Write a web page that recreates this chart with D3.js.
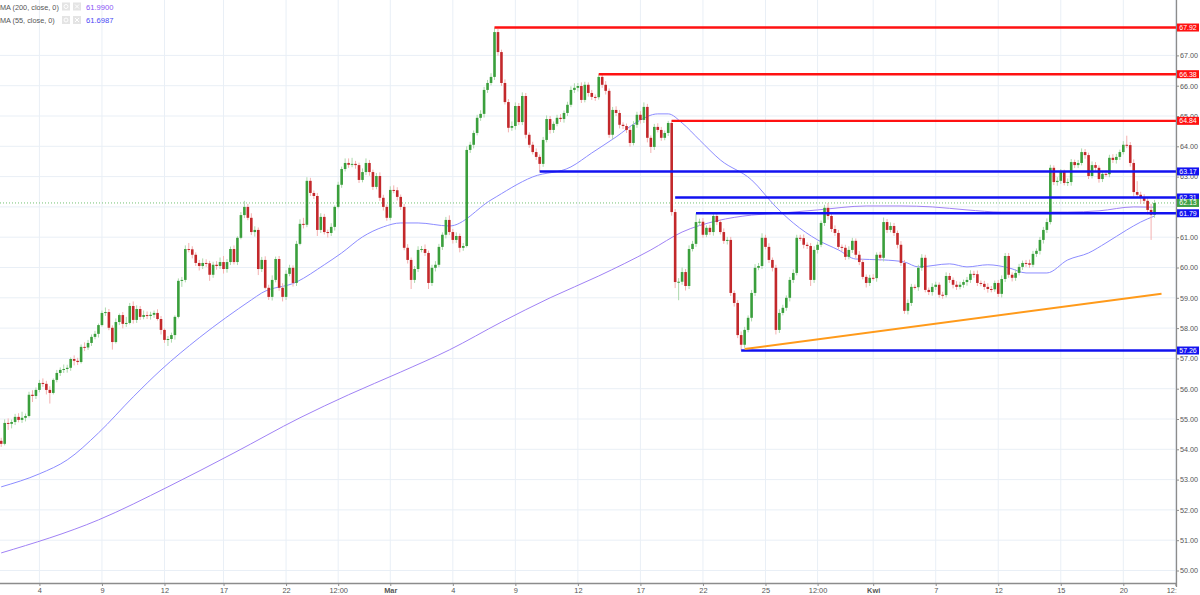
<!DOCTYPE html>
<html><head><meta charset="utf-8">
<script src="https://cdn.jsdelivr.net/npm/d3@7"></script>
<style>
html,body{margin:0;padding:0;background:#fff;overflow:hidden;}
svg{display:block;font-family:"Liberation Sans",Arial,sans-serif;}
</style></head><body>
<svg id="c" width="1200" height="595"></svg>
<script>
// ---------------- DATA ----------------
const firstOpen = 54.28;
const closes = [
54.18,54.87,54.84,54.90,55.07,54.97,55.04,55.10,55.80,55.76,
55.96,56.19,56.16,55.96,55.86,56.29,56.52,56.62,56.65,56.69,
56.98,56.92,56.88,57.38,57.36,57.51,57.71,57.81,58.10,58.50,
58.53,58.01,57.54,58.20,58.43,58.14,58.17,58.73,58.27,58.63,
58.37,58.43,58.40,58.44,58.50,58.30,57.94,57.61,57.64,57.77,
58.37,59.56,59.59,60.61,60.60,60.42,60.15,60.05,60.15,60.14,
59.76,60.09,60.05,60.18,59.95,60.18,60.61,60.18,60.98,61.73,
62.00,61.64,61.17,61.24,59.95,60.25,59.33,59.03,59.59,60.28,
59.33,59.03,59.79,59.99,59.49,60.78,61.44,61.41,62.86,62.46,
62.36,61.24,61.67,61.17,61.14,61.34,62.00,62.73,63.25,63.45,
63.39,63.42,63.38,62.89,63.15,63.45,63.15,62.66,63.02,62.30,
62.00,61.64,62.56,62.55,62.33,62.00,60.65,60.25,59.59,59.95,
60.58,60.61,60.48,59.49,59.99,60.09,60.68,61.08,61.57,61.17,
60.91,61.04,60.65,60.71,63.88,64.05,64.44,64.94,65.07,65.86,
66.09,66.29,67.77,67.11,66.09,65.46,64.61,64.67,65.33,64.80,
65.66,64.38,64.05,63.81,63.65,63.42,64.21,64.90,64.54,64.74,
64.94,64.90,65.10,65.37,65.86,65.93,65.99,65.53,66.03,65.76,
65.63,65.62,66.29,66.03,65.83,64.38,65.20,65.10,64.71,64.67,
64.54,64.11,64.71,65.04,64.87,65.30,64.28,63.98,64.64,64.54,
64.28,64.44,64.77,61.83,59.52,59.53,59.85,59.39,60.61,60.78,
61.50,61.51,61.08,61.31,61.17,61.70,61.50,61.17,60.88,60.91,
59.16,58.83,57.77,57.45,57.94,58.34,59.16,59.99,60.05,60.98,
60.68,60.25,59.99,57.94,58.50,58.67,59.00,59.59,59.82,60.98,
60.97,60.75,60.71,59.59,60.58,60.75,61.47,61.97,61.70,61.27,
61.14,60.68,60.65,60.35,60.58,60.88,60.42,60.18,59.69,59.49,
59.66,59.65,60.42,60.32,61.50,61.24,61.37,61.14,60.75,60.15,
58.57,58.83,59.36,59.35,59.99,60.32,59.26,59.19,59.36,59.43,
59.10,59.09,59.72,59.59,59.43,59.36,59.43,59.52,59.59,59.79,
59.78,59.49,59.46,59.36,59.29,59.28,59.49,59.13,59.62,60.38,
59.76,59.66,59.82,60.02,60.15,60.14,60.09,60.45,60.55,60.91,
61.24,61.50,63.29,62.82,62.86,63.15,62.79,62.82,63.48,63.38,
63.45,63.81,63.71,63.02,63.38,63.29,62.92,63.09,63.08,63.62,
63.55,63.65,63.81,64.05,64.04,63.45,62.49,62.40,62.30,62.20,
61.90,61.74,62.13];
const wickUp = [
.10,.12,.15,.08,.10,.12,.20,.08,.10,.15,
.08,.10,.15,.10,.12,.05,.10,.08,.15,.10,
.05,.12,.10,.08,.15,.10,.08,.10,.05,.08,
.15,.10,.08,.12,.05,.10,.20,.10,.15,.12,
.10,.15,.12,.10,.08,.12,.10,.05,.10,.08,
.05,.08,.10,.12,.20,.10,.08,.10,.15,.12,
.08,.10,.12,.15,.20,.10,.08,.12,.05,.10,
.20,.10,.15,.12,.08,.10,.12,.10,.15,.08,
.10,.15,.12,.10,.08,.10,.15,.20,.12,.10,
.08,.10,.12,.10,.08,.12,.05,.10,.08,.15,
.15,.20,.10,.08,.12,.15,.10,.08,.10,.12,
.10,.08,.12,.15,.10,.08,.10,.12,.08,.10,
.12,.10,.15,.08,.10,.12,.10,.08,.10,.15,
.10,.12,.08,.10,.12,.10,.08,.10,.12,.10,
.10,.12,.15,.10,.08,.12,.10,.15,.12,.10,
.12,.10,.08,.10,.12,.08,.10,.12,.10,.08,
.10,.12,.08,.10,.12,.15,.10,.12,.10,.08,
.10,.08,.09,.10,.12,.08,.10,.12,.10,.08,
.08,.10,.12,.10,.12,.15,.10,.08,.10,.12,
.10,.08,.07,.10,.10,.12,.15,.10,.12,.10,
.29,.10,.12,.08,.10,.09,.10,.08,.12,.10,
.10,.08,.10,.12,.10,.08,.10,.12,.10,.15,
.10,.12,.08,.10,.12,.10,.08,.10,.12,.10,
.10,.12,.08,.10,.12,.10,.08,.10,.16,.10,
.12,.10,.08,.10,.12,.10,.08,.12,.10,.08,
.10,.12,.08,.10,.15,.10,.12,.10,.08,.12,
.10,.12,.10,.08,.10,.12,.10,.08,.12,.10,
.08,.10,.12,.10,.08,.12,.10,.08,.10,.12,
.10,.12,.08,.10,.12,.10,.08,.10,.12,.10,
.10,.08,.12,.10,.08,.10,.12,.10,.08,.10,
.10,.12,.10,.08,.12,.10,.08,.12,.10,.08,
.10,.12,.10,.08,.12,.10,.08,.10,.12,.10,
.12,.10,.08,.12,.30,.10,.12,.36,.10,.12,
.12,.20,.10];
const wickDn = [
.10,.05,.20,.15,.10,.08,.10,.12,.05,.20,
.10,.08,.10,.15,.35,.05,.08,.10,.10,.12,
.10,.15,.10,.05,.12,.08,.10,.08,.12,.05,
.10,.08,.25,.05,.10,.15,.10,.05,.12,.10,
.10,.08,.10,.12,.10,.05,.15,.10,.20,.12,
.15,.05,.20,.08,.10,.12,.10,.15,.10,.12,
.20,.10,.12,.10,.15,.12,.10,.08,.10,.05,
.10,.08,.10,.15,.20,.10,.05,.10,.12,.08,
.10,.15,.10,.08,.12,.10,.05,.12,.08,.10,
.10,.20,.10,.08,.15,.10,.12,.05,.10,.08,
.10,.08,.12,.10,.08,.10,.12,.10,.08,.10,
.12,.10,.08,.10,.12,.10,.08,.12,.30,.10,
.10,.08,.10,.20,.10,.12,.08,.10,.12,.10,
.12,.10,.15,.10,.05,.10,.12,.08,.10,.12,
.10,.08,.10,.12,.10,.08,.15,.10,.12,.10,
.10,.12,.10,.08,.10,.25,.10,.08,.12,.10,
.08,.10,.12,.10,.08,.10,.12,.10,.08,.12,
.10,.12,.08,.10,.12,.10,.15,.10,.12,.10,
.10,.12,.08,.10,.12,.10,.15,.20,.10,.08,
.10,.08,.10,.12,.20,.60,.10,.15,.10,.08,
.10,.12,.10,.08,.10,.12,.10,.08,.10,.12,
.10,.12,.10,.19,.10,.08,.12,.10,.08,.10,
.08,.10,.12,.15,.10,.08,.10,.12,.10,.08,
.10,.12,.10,.20,.10,.12,.08,.10,.12,.10,
.10,.08,.12,.10,.08,.10,.12,.10,.08,.15,
.10,.08,.12,.10,.12,.10,.08,.10,.12,.10,
.10,.12,.10,.08,.12,.10,.08,.10,.12,.10,
.10,.12,.08,.10,.12,.10,.08,.10,.12,.10,
.12,.10,.08,.10,.12,.10,.08,.10,.12,.10,
.10,.12,.10,.08,.10,.12,.10,.08,.10,.12,
.12,.10,.08,.10,.12,.10,.08,.10,.12,.10,
.10,.08,.12,.10,.08,.10,.12,.10,.08,.10,
.10,.12,.10,.08,.10,.12,.15,.10,.20,.10,
.15,.83,.10];

const ma55Idx = [0,11,19,28,38,46,57,72,75,85,93,98,104,110,115,120,129,141,153,164,170,177,183,189,192,196,201,207,216,223,228,235,241,246,254,260,264,273,278,284,290,295,301,307,313,318,324,328,332];
const ma55Val = [52.76,53.19,53.65,54.54,55.73,56.62,57.68,58.93,59.16,59.52,60.09,60.48,61.01,61.34,61.47,61.47,61.37,62.23,62.99,63.32,63.78,64.31,64.80,65.07,65.07,64.77,64.21,63.55,62.89,62.00,61.47,60.91,60.58,60.28,60.25,60.18,60.02,60.12,60.02,60.09,59.99,59.82,59.82,60.25,60.48,60.81,61.24,61.50,61.70];
const ma200Idx = [0,28,48,67,86,100,115,129,144,158,172,187,196,206,216,225,235,249,259,268,278,288,307,316,326,332];
const ma200Val = [50.58,51.67,52.76,53.88,55.04,55.80,56.55,57.28,58.20,59.00,59.72,60.58,61.17,61.54,61.73,61.80,61.90,62.03,62.03,62.00,61.90,61.83,61.83,61.87,62.00,61.99];

const timeTickIdx = [11,29,47,64,82,97,112,130,148,166,184,202,220,235,251,269,287,305,323,338];
const timeTickLabels = ["4","9","12","17","22","12:00","Mar","4","9","12","17","22","25","12:00","Kwi","7","12","15","20","12:00"];
const monthLabels = ["Mar","Kwi"];
const priceTicks = [50,51,52,53,54,55,56,57,58,59,60,61,63,64,65,66,67];

const levelValues = [67.92, 66.38, 64.84, 63.17, 62.31, 61.79, 57.26];
const levelStartIdx = [142, 172, 193, 155, 194, 200, 213];
const levelKinds = ["res","res","res","sup","sup","sup","sup"];
const trendIdx = [214, 334];
const trendVal = [57.31, 59.13];
const lastPrice = 62.13;
const legendNames = ["MA (200, close, 0)", "MA (55, close, 0)"];
const legendValues = ["61.9900", "61.6987"];

// ---------------- CHART ----------------
const svg = d3.select("#c");
const plotRight = 1176, plotBottom = 583;
const x = d3.scaleLinear().domain([0, 338.5]).range([1.2, 1.2 + 3.474*338.5]);
const y = d3.scaleLinear().domain([50, 67]).range([570.5, 55.4]);
const FONT = "Liberation Sans, Arial, sans-serif";

const C = {
  grid: "#e9eff6", up: "#3a9f3c", down: "#c3282b", upWick: "#acd9ac", downWick: "#f3b0b0",
  res: "#ff1111", sup: "#1212f0", trend: "#ff9a1a", ma200: "#a082f5", ma55: "#8c8cff",
  axis: "#8c8c8c", text: "#555", last: "#3f9f45"
};

svg.append("rect").attr("width",1200).attr("height",595).attr("fill","#fff");

// grid
const gridPrices = d3.range(50, 68);
const grid = svg.append("g");
grid.selectAll("line.h").data(gridPrices).join("line").attr("class","h")
  .attr("x1",0).attr("x2",plotRight).attr("y1",d=>y(d)).attr("y2",d=>y(d))
  .attr("stroke",C.grid).attr("stroke-width",1);
grid.selectAll("line.v").data(timeTickIdx).join("line").attr("class","v")
  .attr("x1",d=>x(d)).attr("x2",d=>x(d)).attr("y1",0).attr("y2",plotBottom)
  .attr("stroke",C.grid).attr("stroke-width",1);

svg.append("clipPath").attr("id","plot").append("rect")
  .attr("x",0).attr("y",0).attr("width",plotRight).attr("height",plotBottom);
const plot = svg.append("g").attr("clip-path","url(#plot)");

// last price dotted line
plot.append("line").attr("x1",0).attr("x2",plotRight)
  .attr("y1",y(lastPrice)).attr("y2",y(lastPrice))
  .attr("stroke","#72c173").attr("stroke-width",1).attr("stroke-dasharray","1,2");

// moving averages
const maLine = d3.line().x(d=>x(d[0])).y(d=>y(d[1])).curve(d3.curveMonotoneX);
plot.append("path").attr("d", maLine(ma200Idx.map((d,i)=>[d, ma200Val[i]])))
  .attr("fill","none").attr("stroke",C.ma200).attr("stroke-width",1);
plot.append("path").attr("d", maLine(ma55Idx.map((d,i)=>[d, ma55Val[i]])))
  .attr("fill","none").attr("stroke",C.ma55).attr("stroke-width",1);

// candles
const candles = closes.map((c,i)=>{
  const o = i===0 ? firstOpen : closes[i-1];
  const h = Math.max(o,c) + (wickUp[i]||0);
  const l = Math.min(o,c) - (wickDn[i]||0);
  return {i,o,h,l,c,up:c>=o};
});
const bw = 2.6;
const cg = plot.append("g");
cg.selectAll("line").data(candles).join("line")
  .attr("x1",d=>x(d.i)).attr("x2",d=>x(d.i))
  .attr("y1",d=>y(d.h)).attr("y2",d=>y(d.l))
  .attr("stroke",d=>d.up?C.upWick:C.downWick).attr("stroke-width",1);
cg.selectAll("rect").data(candles).join("rect")
  .attr("x",d=>x(d.i)-bw/2).attr("width",bw)
  .attr("y",d=>y(Math.max(d.o,d.c)))
  .attr("height",d=>Math.max(1, Math.abs(y(d.o)-y(d.c))))
  .attr("fill",d=>d.up?C.up:C.down);

// horizontal levels
const levels = levelValues.map((v,i)=>({v, s:levelStartIdx[i], kind:levelKinds[i]}));
plot.selectAll("line.lvl").data(levels).join("line").attr("class","lvl")
  .attr("x1",d=>x(d.s)).attr("x2",plotRight)
  .attr("y1",d=>y(d.v)).attr("y2",d=>y(d.v))
  .attr("stroke",d=>C[d.kind]).attr("stroke-width",2.4);

// trend line
plot.append("line")
  .attr("x1",x(trendIdx[0])).attr("y1",y(trendVal[0]))
  .attr("x2",x(trendIdx[1])).attr("y2",y(trendVal[1]))
  .attr("stroke",C.trend).attr("stroke-width",2);

// axes
const yAxis = d3.axisRight(y).tickValues(priceTicks).tickFormat(d3.format(".2f")).tickSize(3).tickPadding(1);
const gy = svg.append("g").attr("transform",`translate(${plotRight},0)`).call(yAxis);
gy.select(".domain").remove();
gy.selectAll(".tick line").attr("stroke",C.axis);
gy.selectAll(".tick text").attr("fill",C.text).attr("font-size",7.2).attr("font-family",FONT);

const xAxis = d3.axisBottom(x).tickValues(timeTickIdx).tickFormat((d,i)=>timeTickLabels[i]).tickSize(3).tickPadding(1.5);
const gx = svg.append("g").attr("transform",`translate(0,${plotBottom})`).call(xAxis);
gx.select(".domain").remove();
gx.selectAll(".tick line").attr("stroke",C.axis);
gx.selectAll(".tick text").attr("fill",C.text).attr("font-size",7.4)
  .attr("font-family",FONT)
  .attr("font-weight",(d,i)=>monthLabels.includes(timeTickLabels[i])?"bold":"normal");

// mask the time label area under the price scale
svg.append("rect").attr("x",plotRight+0.5).attr("y",plotBottom+1).attr("width",24).attr("height",12).attr("fill","#fff");

svg.append("line").attr("x1",0).attr("x2",plotRight+0.5).attr("y1",plotBottom+0.5).attr("y2",plotBottom+0.5)
  .attr("stroke",C.axis).attr("stroke-width",1.3);
svg.append("line").attr("x1",plotRight+0.5).attr("x2",plotRight+0.5).attr("y1",0).attr("y2",plotBottom+4)
  .attr("stroke",C.axis).attr("stroke-width",1.3);

// price labels on scale
const tags = levels.map(d=>({v:d.v, color:C[d.kind]})).concat([{v:lastPrice, color:C.last}]);
const tg = svg.append("g");
tg.selectAll("rect").data(tags).join("rect")
  .attr("x",plotRight+1).attr("width",22).attr("y",d=>y(d.v)-4).attr("height",8)
  .attr("fill",d=>d.color);
tg.selectAll("text").data(tags).join("text")
  .attr("x",plotRight+12).attr("y",d=>y(d.v)).attr("dy","0.35em")
  .attr("text-anchor","middle").attr("fill","#fff").attr("font-size",7).attr("font-family",FONT)
  .text(d=>d3.format(".2f")(d.v));

// legend
const lg = svg.append("g");
legendNames.forEach((n,i)=>{
  const yy = 9.5 + i*13.5;
  lg.append("text").attr("x",0).attr("y",yy).attr("font-size",7.3).attr("fill",C.text).attr("font-family",FONT).text(n);
  lg.append("rect").attr("x",62).attr("y",yy-7).attr("width",8).attr("height",8).attr("fill","#e4e4e4");
  lg.append("circle").attr("cx",66).attr("cy",yy-3).attr("r",2).attr("fill","none").attr("stroke","#fff").attr("stroke-width",1);
  lg.append("rect").attr("x",73).attr("y",yy-7).attr("width",8).attr("height",8).attr("fill","#e4e4e4");
  lg.append("path").attr("d",`M75,${yy-5}L79,${yy-1}M79,${yy-5}L75,${yy-1}`).attr("stroke","#fff").attr("stroke-width",1);
  lg.append("text").attr("x",86).attr("y",yy).attr("font-size",7.6).attr("font-family",FONT)
    .attr("fill", i===0 ? "#8a55f5" : "#4a4af5").text(legendValues[i]);
});
</script>
</body></html>
